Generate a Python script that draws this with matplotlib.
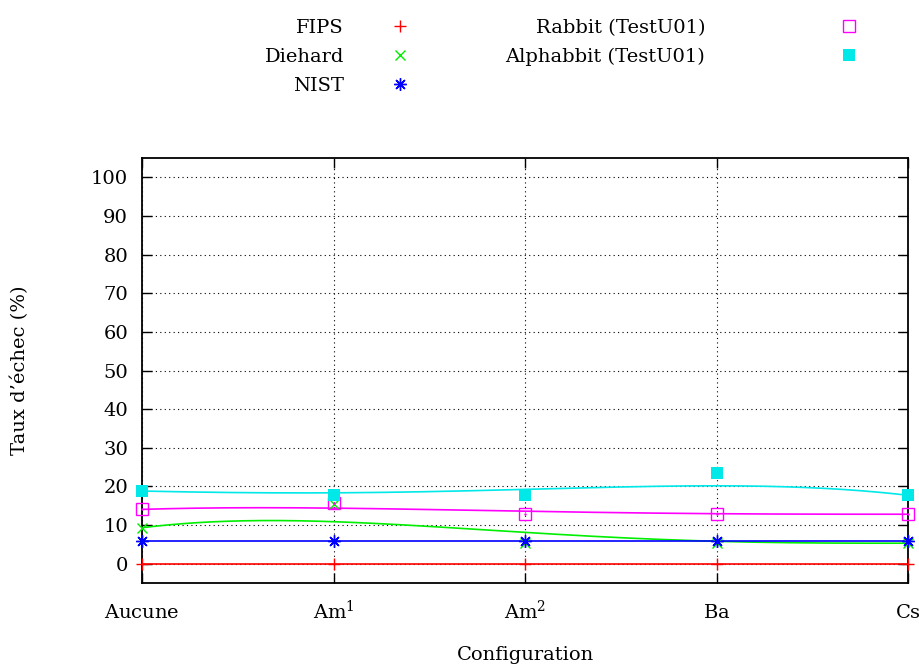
import math
import numpy as np
import matplotlib
matplotlib.use("Agg")
import matplotlib.pyplot as plt
from matplotlib.lines import Line2D

plt.rcParams['font.family'] = ['DejaVu Serif']
plt.rcParams['mathtext.fontset'] = 'dejavuserif'
plt.rcParams['font.size'] = 14

configs = ['$\\mathrm{Aucune}$', '$\\mathrm{Am}^1$', '$\\mathrm{Am}^2$', '$\\mathrm{Ba}$', '$\\mathrm{Cs}$']
fips = [0, 0, 0, 0, 0]
diehard = [9.3, 15.5, 5.3, 5.3, 5.3]
nist = [5.85, 5.85, 5.85, 5.85, 5.85]
rabbit = [14.05, 15.6, 12.8, 12.8, 12.8]
alphabbit = [18.8, 17.75, 17.7, 23.5, 17.7]
yticks = list(range(0, 101, 10))


def bezier(vals, n=300):
    vals = np.asarray(vals, float)
    N = len(vals) - 1
    t = np.linspace(0, 1, n)
    return sum(math.comb(N, i) * t**i * (1 - t)**(N - i) * vals[i] for i in range(N + 1))


fig = plt.figure(figsize=(9.19, 6.66), dpi=100)
ax = fig.add_axes([142/919, 1-583/666, 766/919, 425/666])
x = np.arange(len(configs))

series = [
    ('FIPS', fips, '#ff0000', dict(marker='+', ms=8, mew=1.0)),
    ('Diehard', diehard, '#00ee00', dict(marker='x', ms=7, mew=1.0)),
    ('NIST', nist, '#0000ff', dict(marker=(8, 2, 0), ms=9, mew=1.0)),
    ('Rabbit (TestU01)', rabbit, '#ff00ff', dict(marker='s', ms=9, mew=1.0, mfc='none')),
    ('Alphabbit (TestU01)', alphabbit, '#00e8e8', dict(marker='s', ms=9, mew=0, mfc='#00e8e8')),
]

handles = []
for name, vals, col, mk in series:
    ax.plot(bezier(x), bezier(vals), color=col, lw=1.2, zorder=2)
    ax.plot(x, vals, ls='none', color=col, clip_on=False, zorder=3, **mk)
    if name.startswith('Rabbit'):
        ax.plot(x, vals, ls='none', marker='.', ms=1.5, color=col, clip_on=False, zorder=3)
    handles.append(Line2D([], [], ls='none', color=col, **mk))

ax.set_xlim(0, 4)
ax.set_ylim(-5, 105)
ax.set_xticks(x)
ax.set_xticklabels(configs)
ax.set_yticks(yticks)
ax.grid(True, color='black', ls=(0, (1, 3)), lw=0.8)
ax.tick_params(direction='in', length=7, width=1, top=True, right=True)
ax.tick_params(axis='x', pad=25.5)
ax.tick_params(axis='y', pad=10)
for lab in ax.get_xticklabels():
    lab.set_va('baseline')
for s in ax.spines.values():
    s.set_linewidth(1.3)

ax.set_xlabel('Configuration', va='center')
ax.set_ylabel('Taux d’échec (%)', va='center')
ax.xaxis.set_label_coords(0.5, -0.169)
ax.yaxis.set_label_coords(-0.159, 0.5)

fs = 14 * 100 / 72
leg1 = fig.legend(handles[:3], [s[0] for s in series[:3]], ncol=1, markerfirst=False,
                  frameon=False, handlelength=1.0, handletextpad=(56 - fs/2)/fs,
                  labelspacing=0.56, borderpad=0, borderaxespad=0,
                  loc='center right', bbox_to_anchor=((400 + fs/2)/919, 1 - 57/666))
leg2 = fig.legend(handles[3:], [s[0] for s in series[3:]], ncol=1, markerfirst=False,
                  frameon=False, handlelength=1.0, handletextpad=(144 - fs/2)/fs,
                  labelspacing=0.56, borderpad=0, borderaxespad=0,
                  loc='center right', bbox_to_anchor=((849 + fs/2)/919, 1 - 42.5/666))

fig.savefig('out.png', dpi=100)
